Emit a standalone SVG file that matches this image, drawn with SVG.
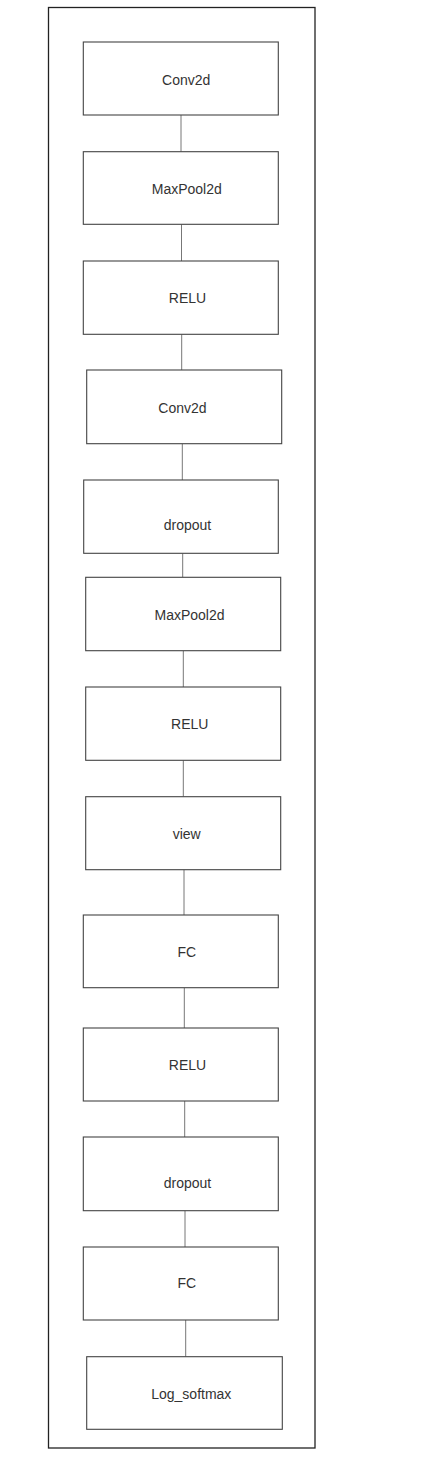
<svg xmlns="http://www.w3.org/2000/svg" width="431" height="1460" viewBox="0 0 431 1460">
<style>
.frame{fill:#fff;stroke:#222;stroke-width:1.3}
.box{fill:#fff;stroke:#444;stroke-width:1.1}
.lbl{font-family:"Liberation Sans",Arial,sans-serif;font-size:14px;fill:#333;text-anchor:middle}
.conn line{stroke:#777;stroke-width:1}
</style>
<rect width="431" height="1460" fill="#fff"/>
<rect id="frame" class="frame" x="48.5" y="7.5" width="266.5" height="1440.5"/>
<g id="connectors" class="conn">
<line x1="181" y1="115" x2="181" y2="151.7"/>
<line x1="181.5" y1="224.3" x2="181.5" y2="261"/>
<line x1="181.7" y1="334.3" x2="181.7" y2="370"/>
<line x1="182.3" y1="443.7" x2="182.3" y2="480"/>
<line x1="182.7" y1="553.3" x2="182.7" y2="577.3"/>
<line x1="183.3" y1="650.7" x2="183.3" y2="687"/>
<line x1="183.3" y1="760.3" x2="183.3" y2="796.7"/>
<line x1="184" y1="869.7" x2="184" y2="915"/>
<line x1="184.3" y1="987.7" x2="184.3" y2="1028"/>
<line x1="184.7" y1="1101" x2="184.7" y2="1137"/>
<line x1="185" y1="1210.7" x2="185" y2="1247"/>
<line x1="185.7" y1="1320" x2="185.7" y2="1356.7"/>
</g>
<g id="n1"><rect class="box" x="83.3" y="42" width="195" height="73"/><text class="lbl" x="186.2" y="85">Conv2d</text></g>
<g id="n2"><rect class="box" x="83.3" y="151.7" width="195" height="72.6"/><text class="lbl" x="186.8" y="194">MaxPool2d</text></g>
<g id="n3"><rect class="box" x="83.3" y="261" width="195" height="73.3"/><text class="lbl" x="187.5" y="302.7">RELU</text></g>
<g id="n4"><rect class="box" x="86.7" y="370" width="195" height="73.7"/><text class="lbl" x="182.5" y="412.7">Conv2d</text></g>
<g id="n5"><rect class="box" x="83.7" y="480" width="194.6" height="73.3"/><text class="lbl" x="187.5" y="530">dropout</text></g>
<g id="n6"><rect class="box" x="85.7" y="577.3" width="195" height="73.4"/><text class="lbl" x="189.5" y="620">MaxPool2d</text></g>
<g id="n7"><rect class="box" x="85.7" y="687" width="195" height="73.3"/><text class="lbl" x="189.8" y="729">RELU</text></g>
<g id="n8"><rect class="box" x="85.7" y="796.7" width="195" height="73"/><text class="lbl" x="186.7" y="838.5">view</text></g>
<g id="n9"><rect class="box" x="83.3" y="915" width="195" height="72.7"/><text class="lbl" x="186.8" y="956.7">FC</text></g>
<g id="n10"><rect class="box" x="83.3" y="1028" width="195" height="73"/><text class="lbl" x="187.5" y="1070">RELU</text></g>
<g id="n11"><rect class="box" x="83.3" y="1137" width="195" height="73.7"/><text class="lbl" x="187.5" y="1188">dropout</text></g>
<g id="n12"><rect class="box" x="83.3" y="1247" width="195" height="73"/><text class="lbl" x="186.8" y="1288.3">FC</text></g>
<g id="n13"><rect class="box" x="86.7" y="1356.7" width="195.6" height="72.6"/><text class="lbl" x="191.3" y="1399">Log_softmax</text></g>
</svg>
